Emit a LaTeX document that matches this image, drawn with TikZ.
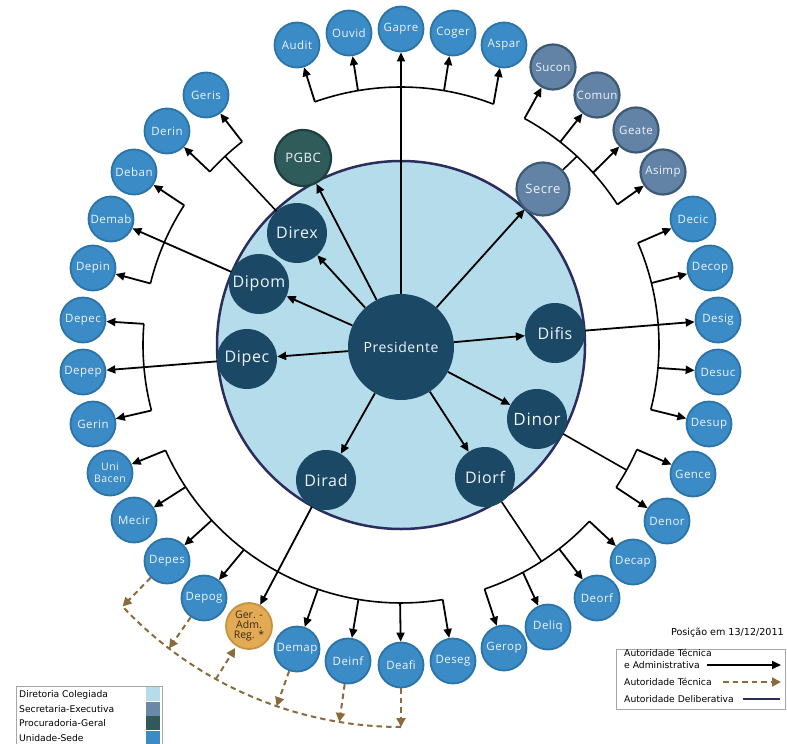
\documentclass[tikz,border=0pt]{standalone}
\usepackage{fontspec}
\setmainfont{Open Sans}
\newfontfamily\legfont{DejaVu Sans}
\newfontfamily\lsfont[LetterSpace=4]{Open Sans}
\usetikzlibrary{arrows.meta}
\definecolor{circfill}{HTML}{B4DCEA}
\definecolor{circborder}{HTML}{2B2D5E}
\definecolor{dnavy}{HTML}{1B4965}
\definecolor{ublue}{HTML}{3A8BC6}
\definecolor{ublueb}{HTML}{2C74A8}
\definecolor{secfill}{HTML}{6283A6}
\definecolor{secb}{HTML}{3E5973}
\definecolor{pgfill}{HTML}{2F5C5A}
\definecolor{pgb}{HTML}{1F3F3E}
\definecolor{gerfill}{HTML}{E2AA55}
\definecolor{gerb}{HTML}{C99240}
\definecolor{brownc}{HTML}{8B6B3E}
\definecolor{swsec}{HTML}{6A89A9}
\definecolor{swpg}{HTML}{31595A}
\definecolor{lbl}{HTML}{EEF4FA}
\definecolor{gertext}{HTML}{3A2A12}
\newcommand\onarc[3]{\coordinate (#1) at ({401+#3*cos(#2)},{345+#3*sin(#2)});}
\newcommand\busarc[2]{\draw[bus] plot[domain=#1:#2,samples=40,variable=\t] ({401+258*cos(\t)},{345+258*sin(\t)});}
\begin{document}
\begin{tikzpicture}[x=1pt,y=-1pt,
  unit/.style={circle, fill=ublue, draw=ublueb, line width=1.8pt, minimum size=45pt, inner sep=0pt, text=lbl, font=\lsfont\fontsize{11.5}{12}\selectfont, align=center},
  dirc/.style={circle, fill=dnavy, minimum size=60pt, inner sep=0pt, text=lbl, font=\lsfont\fontsize{16}{18}\selectfont},
  sec/.style={circle, fill=secfill, draw=secb, line width=2.2pt, minimum size=45pt, inner sep=0pt, text=lbl, font=\lsfont\fontsize{11.5}{12}\selectfont},
  arr/.style={line width=1.8pt, -{Triangle[length=9pt,width=8pt]}},
  bus/.style={line width=1.6pt},
  tech/.style={draw=brownc, line width=2pt, dash pattern=on 5.5pt off 4pt},
  techarr/.style={tech, -{Triangle[length=9pt,width=9pt,fill=brownc]}},
  legtext/.style={anchor=west, inner sep=0pt, font=\legfont\fontsize{9.2}{10}\selectfont}
]
\useasboundingbox (0,0) rectangle (787,744);
\clip (0,0) rectangle (787,744);

% big circle
\node[circle, fill=circfill, draw=circborder, line width=2.5pt, minimum size=368pt, inner sep=0pt] (Big) at (401,345) {};

% inner nodes
\node[dirc, minimum size=106pt, font=\lsfont\fontsize{14}{16}\selectfont] (Pres) at (401,347) {Presidente};
\node[dirc] (Direx) at (297,233) {Direx};
\node[dirc] (Dipom) at (259,284) {Dipom};
\node[dirc] (Dipec) at (247,359) {Dipec};
\node[dirc] (Difis) at (555,333) {Difis};
\node[dirc, font=\lsfont\fontsize{17}{18}\selectfont] (Dinor) at (537,419) {Dinor};
\node[dirc] (Diorf) at (485,477) {Diorf};
\node[dirc] (Dirad) at (326,480) {Dirad};
\node[circle, fill=pgfill, draw=pgb, line width=2.2pt, minimum size=56pt, inner sep=0pt, text=lbl, font=\lsfont\fontsize{13}{14}\selectfont] (PGBC) at (303,158) {PGBC};
\node[sec, minimum size=53pt, font=\lsfont\fontsize{13}{14}\selectfont] (Secre) at (543,189) {Secre};

% outer nodes
\node[unit] (Audit) at (297,45) {Audit};
\node[unit] (Ouvid) at (349,33) {Ouvid};
\node[unit] (Gapre) at (401,29) {Gapre};
\node[unit] (Coger) at (453,33) {Coger};
\node[unit] (Aspar) at (504,45) {Aspar};
\node[sec] (Sucon) at (553,67) {Sucon};
\node[sec] (Comun) at (597,95) {Comun};
\node[sec] (Geate) at (636,130) {Geate};
\node[sec] (Asimp) at (663,172) {Asimp};
\node[unit] (Decic) at (693,219) {Decic};
\node[unit] (Decop) at (710,268) {Decop};
\node[unit] (Desig) at (718,320) {Desig};
\node[unit] (Desuc) at (718,372) {Desuc};
\node[unit] (Desup) at (709,424) {Desup};
\node[unit] (Gence) at (693,474) {Gence};
\node[unit] (Denor) at (667,521) {Denor};
\node[unit] (Decap) at (633,562) {Decap};
\node[unit] (Deorf) at (597,598) {Deorf};
\node[unit] (Deliq) at (548,627) {Deliq};
\node[unit] (Gerop) at (504,648) {Gerop};
\node[unit] (Deseg) at (453,661) {Deseg};
\node[unit] (Deafi) at (401,665) {Deafi};
\node[unit] (Deinf) at (348,661) {Deinf};
\node[unit] (Demap) at (297,649) {Demap};
\node[circle, fill=gerfill, draw=gerb, line width=1.8pt, minimum size=46pt, inner sep=0pt, text=gertext, font=\fontsize{10.5}{10}\selectfont, align=center] (GerAdm) at (249,626) {Ger. -\\Adm.\\Reg. *};
\node[unit] (Depog) at (204,598) {Depog};
\node[unit] (Depes) at (167,561) {Depes};
\node[unit] (Mecir) at (134,520) {Mecir};
\node[unit, font=\lsfont\fontsize{10.5}{12}\selectfont] (UniBacen) at (110,473) {Uni\\Bacen};
\node[unit] (Gerin) at (93,424) {Gerin};
\node[unit] (Depep) at (83,372) {Depep};
\node[unit] (Depec) at (83,320) {Depec};
\node[unit] (Depin) at (93,268) {Depin};
\node[unit] (Demab) at (111,219) {Demab};
\node[unit] (Deban) at (134,172) {Deban};
\node[unit] (Derin) at (167,131) {Derin};
\node[unit] (Geris) at (206,95) {Geris};

% spokes from Presidente
\foreach \n in {Gapre,PGBC,Direx,Dipom,Dipec,Difis,Dinor,Diorf,Dirad,Secre}
  \draw[arr] (Pres) -- (\n);

% top group
\busarc{-109.5}{-69}
\onarc{t1}{-109.5}{258}\onarc{t2}{-99.6}{258}\onarc{t3}{-80.4}{258}\onarc{t4}{-69}{258}
\draw[arr] (t1) -- (Audit);
\draw[arr] (t2) -- (Ouvid);
\draw[arr] (t3) -- (Coger);
\draw[arr] (t4) -- (Aspar);

% Secre group
\busarc{-61.4}{-33}
\onarc{s0}{-47}{258}\onarc{s1}{-61.4}{258}\onarc{s2}{-51.9}{258}\onarc{s3}{-41.9}{258}\onarc{s4}{-33}{258}
\draw[bus] (Secre) -- (s0);
\draw[arr] (s1) -- (Sucon);
\draw[arr] (s2) -- (Comun);
\draw[arr] (s3) -- (Geate);
\draw[arr] (s4) -- (Asimp);

% Direx group
\busarc{-137.8}{-128}
\onarc{x0}{-133}{258}\onarc{x1}{-128}{258}\onarc{x2}{-137.8}{258}
\draw[bus] (Direx) -- (x0);
\draw[arr] (x1) -- (Geris);
\draw[arr] (x2) -- (Derin);

% Dipom group
\busarc{-166.2}{-147.2}
\onarc{p1}{-147.2}{258}\onarc{p2}{-166.2}{258}
\draw[arr] (Dipom) -- (Demab);
\draw[arr] (p1) -- (Deban);
\draw[arr] (p2) -- (Depin);

% Dipec group
\busarc{165.3}{184.7}
\onarc{c1}{184.7}{258}\onarc{c2}{165.3}{258}
\draw[arr] (Dipec) -- (Depep);
\draw[arr] (c1) -- (Depec);
\draw[arr] (c2) -- (Gerin);

% Dirad group
\busarc{80.7}{155.9}
\onarc{r1}{155.9}{258}\onarc{r2}{146.6}{258}\onarc{r3}{137.2}{258}\onarc{r4}{127.5}{258}
\onarc{r5}{108.8}{258}\onarc{r6}{99.5}{258}\onarc{r7}{90.2}{258}\onarc{r8}{80.7}{258}
\draw[arr] (Dirad) -- (GerAdm);
\draw[arr] (r1) -- (UniBacen);
\draw[arr] (r2) -- (Mecir);
\draw[arr] (r3) -- (Depes);
\draw[arr] (r4) -- (Depog);
\draw[arr] (r5) -- (Demap);
\draw[arr] (r6) -- (Deinf);
\draw[arr] (r7) -- (Deafi);
\draw[arr] (r8) -- (Deseg);

% Diorf group
\busarc{43.1}{71.1}
\onarc{o0}{57}{258}\onarc{o1}{71.1}{258}\onarc{o2}{61.8}{258}\onarc{o3}{52.2}{258}\onarc{o4}{43.1}{258}
\draw[bus] (Diorf) -- (o0);
\draw[arr] (o1) -- (Gerop);
\draw[arr] (o2) -- (Deliq);
\draw[arr] (o3) -- (Deorf);
\draw[arr] (o4) -- (Decap);

% Dinor group
\busarc{23.9}{33.5}
\onarc{n0}{29}{258}\onarc{n1}{23.9}{258}\onarc{n2}{33.5}{258}
\draw[bus] (Dinor) -- (n0);
\draw[arr] (n1) -- (Gence);
\draw[arr] (n2) -- (Denor);

% Difis group
\busarc{-23.3}{14.5}
\onarc{f1}{-23.3}{258}\onarc{f2}{-13.9}{258}\onarc{f3}{5.1}{258}\onarc{f4}{14.5}{258}
\draw[arr] (Difis) -- (Desig);
\draw[arr] (f1) -- (Decic);
\draw[arr] (f2) -- (Decop);
\draw[arr] (f3) -- (Desuc);
\draw[arr] (f4) -- (Desup);

% technical authority (dashed)
\draw[tech] plot[domain=90:136.8,samples=50,variable=\t] ({401+382*cos(\t)},{345+382*sin(\t)});
\onarc{d1}{136.8}{382}\onarc{d2}{127.4}{382}\onarc{d3}{119}{382}
\onarc{d4}{109}{382}\onarc{d5}{99.3}{382}\onarc{d6}{90}{382}
\draw[techarr] (Depes) -- (d1);
\draw[techarr] (Depog) -- (d2);
\draw[techarr, shorten >=2pt] (d3) -- (GerAdm);
\draw[techarr] (Demap) -- (d4);
\draw[techarr] (Deinf) -- (d5);
\draw[techarr] (Deafi) -- (d6);

% right legend
\node[anchor=east, inner sep=0pt, font=\legfont\fontsize{9.6}{10}\selectfont] (pos) at (784,633) {Posição em 13/12/2011};
\draw[draw=gray!70, line width=0.8pt] (616,649) rectangle (785,709);
\node[legtext] (l1) at (624,653) {Autoridade Técnica};
\node[legtext] (l2) at (624,665) {e Administrativa};
\node[legtext] (l3) at (624,682) {Autoridade Técnica};
\node[legtext] (l4) at (624,699) {Autoridade Deliberativa};
\coordinate (la1) at (707,665); \coordinate (la2) at (781,665);
\coordinate (lb1) at (723,682); \coordinate (lb2) at (781,682);
\coordinate (lc1) at (743,699); \coordinate (lc2) at (780,699);
\draw[arr] (la1) -- (la2);
\draw[techarr] (lb1) -- (lb2);
\draw[draw=circborder, line width=2.5pt] (lc1) -- (lc2);

% left legend
\draw[draw=gray!70, line width=0.8pt] (16,686) rectangle (162,760);
\node[legtext] (k1) at (19,695) {Diretoria Colegiada};
\node[legtext] (k2) at (19,709) {Secretaria-Executiva};
\node[legtext] (k3) at (19,723) {Procuradoria-Geral};
\node[legtext] (k4) at (19,738) {Unidade-Sede};
\fill[circfill] (146,687) rectangle (160,701);
\fill[swsec] (146,701.5) rectangle (160,715.5);
\fill[swpg] (146,716) rectangle (160,730);
\fill[ublue] (146,730.5) rectangle (160,744);
\end{tikzpicture}
\end{document}
